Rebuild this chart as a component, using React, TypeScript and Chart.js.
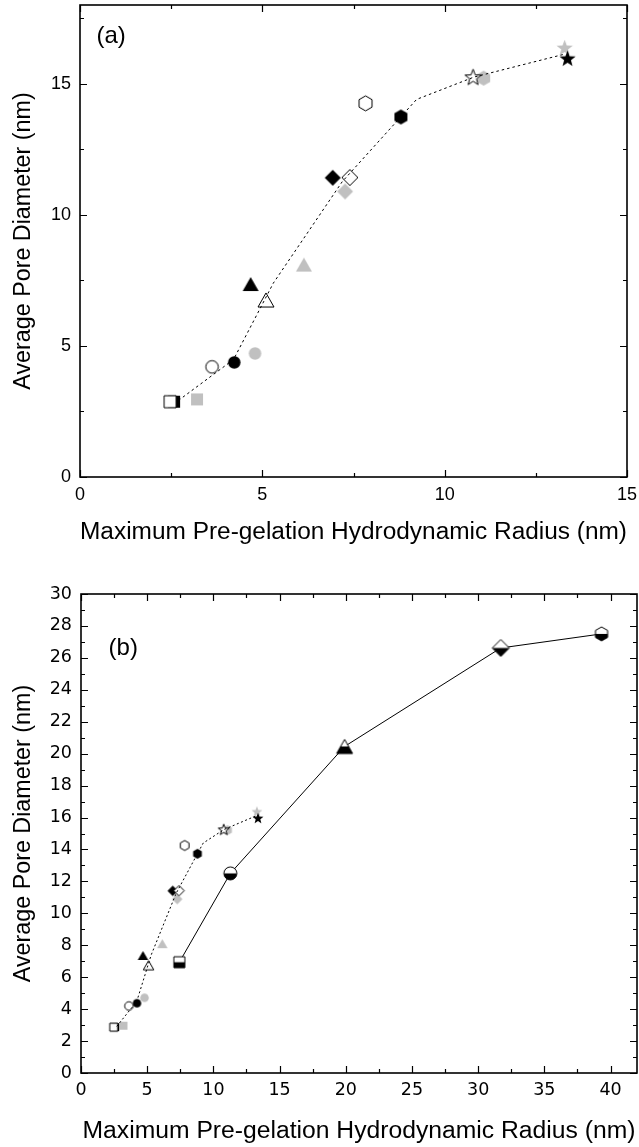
import React, { useEffect, useRef } from 'react';
import { Chart, registerables } from 'chart.js';

Chart.register(...registerables);

const FONT = "'Liberation Sans', Arial, Helvetica, sans-serif";
const FONT_B_TICKS = "'DejaVu Sans', 'Liberation Sans', Arial, sans-serif";
const GRAY = '#c0c0c0';

// marker shape for each gel (same order in each series)
const SHAPES = ['square', 'circle', 'triangle', 'diamond', 'hexagon', 'star'];

// filled black series
const BLACK_X = [2.58, 4.23, 4.68, 6.93, 8.8, 13.37];
const BLACK_Y = [2.87, 4.37, 7.36, 11.41, 13.73, 15.97];
// open series
const OPEN_X = [2.47, 3.62, 5.1, 7.4, 7.83, 10.78];
const OPEN_Y = [2.87, 4.2, 6.75, 11.42, 14.25, 15.26];
// gray series
const GRAY_X = [3.21, 4.8, 6.14, 7.27, 11.07, 13.29];
const GRAY_Y = [2.96, 4.71, 8.1, 10.89, 15.21, 16.38];

// dotted trend line
const TREND_X = [2.7, 4.21, 5.3, 7.19, 9.23, 10.8, 13.3];
const TREND_Y = [2.92, 4.48, 7.39, 11.26, 14.4, 15.25, 16.13];

// half-filled series (panel b, solid line)
const HALF_SHAPES = ['square', 'circle', 'triangle', 'diamond', 'hexagon'];
const HALF_X = [7.43, 11.28, 19.91, 31.71, 39.32];
const HALF_Y = [6.94, 12.5, 20.45, 26.62, 27.5];

// axes
const A_X_MAJOR = [0, 5, 10, 15];
const A_X_MINOR = [2.5, 7.5, 12.5];
const A_Y_MAJOR = [0, 5, 10, 15];
const A_Y_MINOR = [2.5, 7.5, 12.5, 17.5];
const B_X_MAJOR = [0, 5, 10, 15, 20, 25, 30, 35, 40];
const B_X_MINOR = [2.5, 7.5, 12.5, 17.5, 22.5, 27.5, 32.5, 37.5];
const B_Y_MAJOR = [0, 2, 4, 6, 8, 10, 12, 14, 16, 18, 20, 22, 24, 26, 28, 30];
const B_Y_MINOR = [1, 3, 5, 7, 9, 11, 13, 15, 17, 19, 21, 23, 25, 27, 29];

const X_TITLE = 'Maximum Pre-gelation Hydrodynamic Radius (nm)';
const Y_TITLE = 'Average Pore Diameter (nm)';

const SIZE_A: Record<string, number> = { square: 12, circle: 12.5, triangle: 16, diamond: 16, hexagon: 15, star: 17 };
const SIZE_B_SMALL: Record<string, number> = { square: 8, circle: 8.5, triangle: 10.5, diamond: 10.5, hexagon: 10, star: 11.5 };
const SIZE_B_HALF: Record<string, number> = { square: 11, circle: 13, triangle: 16, diamond: 17, hexagon: 14, star: 14 };

function shapePath(ctx: CanvasRenderingContext2D, shape: string, cx: number, cy: number, size: number) {
  const r = size / 2;
  ctx.beginPath();
  if (shape === 'square') {
    ctx.rect(cx - r, cy - r, size, size);
  } else if (shape === 'circle') {
    ctx.arc(cx, cy, r, 0, Math.PI * 2);
  } else if (shape === 'triangle') {
    const h = size * 0.88;
    ctx.moveTo(cx, cy - h / 2);
    ctx.lineTo(cx + r, cy + h / 2);
    ctx.lineTo(cx - r, cy + h / 2);
    ctx.closePath();
  } else if (shape === 'diamond') {
    ctx.moveTo(cx, cy - r);
    ctx.lineTo(cx + r, cy);
    ctx.lineTo(cx, cy + r);
    ctx.lineTo(cx - r, cy);
    ctx.closePath();
  } else if (shape === 'hexagon') {
    for (let i = 0; i < 6; i++) {
      const a = -Math.PI / 2 + (i * Math.PI) / 3;
      const px = cx + r * Math.cos(a);
      const py = cy + r * Math.sin(a);
      if (i === 0) ctx.moveTo(px, py);
      else ctx.lineTo(px, py);
    }
    ctx.closePath();
  } else if (shape === 'star') {
    const yOff = r * 0.1;
    for (let i = 0; i < 10; i++) {
      const a = -Math.PI / 2 + (i * Math.PI) / 5;
      const rr = i % 2 === 0 ? r : r * 0.42;
      const px = cx + rr * Math.cos(a);
      const py = cy + yOff + rr * Math.sin(a);
      if (i === 0) ctx.moveTo(px, py);
      else ctx.lineTo(px, py);
    }
    ctx.closePath();
  }
}

function makeMarker(shape: string, size: number, fill: string): HTMLCanvasElement {
  const w = Math.ceil(size + 4);
  const c = document.createElement('canvas');
  c.width = w;
  c.height = w;
  const ctx = c.getContext('2d')!;
  const cx = w / 2;
  const cy = w / 2;
  shapePath(ctx, shape, cx, cy, size);
  if (fill === 'black') {
    ctx.fillStyle = '#000';
    ctx.fill();
  } else if (fill === 'gray') {
    ctx.fillStyle = GRAY;
    ctx.fill();
  } else if (fill === 'half') {
    ctx.fillStyle = '#fff';
    ctx.fill();
    ctx.save();
    ctx.beginPath();
    ctx.rect(0, cy, w, w);
    ctx.clip();
    shapePath(ctx, shape, cx, cy, size);
    ctx.fillStyle = '#000';
    ctx.fill();
    ctx.restore();
    shapePath(ctx, shape, cx, cy, size);
    ctx.lineWidth = 1;
    ctx.strokeStyle = '#000';
    ctx.stroke();
  } else {
    ctx.fillStyle = '#fff';
    ctx.fill();
    ctx.lineWidth = 1;
    ctx.strokeStyle = '#000';
    ctx.stroke();
  }
  return c;
}

function markerSet(xs: number[], ys: number[], shapes: string[], fill: string, sizes: Record<string, number>) {
  return {
    type: 'scatter' as const,
    data: xs.map((x, i) => ({ x, y: ys[i] })),
    pointStyle: shapes.map((s) => makeMarker(s, sizes[s], fill)),
    pointRadius: 6,
    pointHoverRadius: 6,
    showLine: false,
  };
}

function lineSet(xs: number[], ys: number[], dash: number[]) {
  return {
    type: 'scatter' as const,
    data: xs.map((x, i) => ({ x, y: ys[i] })),
    showLine: true,
    borderColor: '#000',
    borderWidth: 1,
    borderDash: dash,
    pointRadius: 0,
    pointHoverRadius: 0,
    fill: false,
  };
}

const framePlugin = {
  id: 'frameTicks',
  afterDraw(chart: any, _args: any, opts: any) {
    const { ctx, chartArea: a, scales } = chart;
    const xs = scales.x;
    const ys = scales.y;
    ctx.save();
    ctx.strokeStyle = '#000';
    ctx.lineWidth = 1.2;
    ctx.beginPath();
    const xt = (vals: number[], len: number) => {
      for (const v of vals) {
        const p = Math.round(xs.getPixelForValue(v)) + 0.5;
        ctx.moveTo(p, a.bottom);
        ctx.lineTo(p, a.bottom - len);
        ctx.moveTo(p, a.top);
        ctx.lineTo(p, a.top + len);
      }
    };
    const yt = (vals: number[], len: number) => {
      for (const v of vals) {
        const p = Math.round(ys.getPixelForValue(v)) + 0.5;
        ctx.moveTo(a.left, p);
        ctx.lineTo(a.left + len, p);
        ctx.moveTo(a.right, p);
        ctx.lineTo(a.right - len, p);
      }
    };
    xt(opts.xMajor, 7);
    xt(opts.xMinor, 4);
    yt(opts.yMajor, 7);
    yt(opts.yMinor, 4);
    ctx.stroke();
    ctx.lineWidth = 1.6;
    ctx.strokeRect(a.left, a.top, a.right - a.left, a.bottom - a.top);
    ctx.fillStyle = '#000';
    ctx.font = `24px ${FONT}`;
    ctx.textAlign = 'left';
    ctx.textBaseline = 'middle';
    ctx.fillText(opts.label, xs.getPixelForValue(opts.labelX), ys.getPixelForValue(opts.labelY));
    ctx.restore();
  },
};

function axis(o: {
  min: number; max: number; major: number[]; title: string; titlePad: any; titleSize: number; fit: number;
  isY: boolean; labelFont: any; labelPad: number;
}) {
  return {
    type: 'linear' as const,
    min: o.min,
    max: o.max,
    grid: { display: false, drawTicks: false },
    border: { display: false },
    ticks: {
      autoSkip: false,
      maxRotation: 0,
      padding: o.labelPad,
      color: '#000',
      font: o.labelFont,
      callback: (v: any) => String(v),
    },
    afterBuildTicks: (s: any) => {
      s.ticks = o.major.map((v) => ({ value: v }));
    },
    afterFit: (s: any) => {
      if (o.isY) s.width = o.fit;
      else s.height = o.fit;
      s.paddingTop = 0;
      s.paddingBottom = 0;
      s.paddingLeft = 0;
      s.paddingRight = 0;
    },
    title: {
      display: true,
      text: o.title,
      color: '#000',
      font: { family: FONT, size: o.titleSize },
      padding: o.titlePad,
    },
  };
}

export default function App() {
  const refA = useRef<HTMLCanvasElement>(null);
  const refB = useRef<HTMLCanvasElement>(null);

  useEffect(() => {
    const chartA = new Chart(refA.current!, {
      type: 'scatter',
      data: {
        datasets: [
          lineSet(TREND_X, TREND_Y, [2.5, 3]),
          markerSet(OPEN_X, OPEN_Y, SHAPES, 'open', SIZE_A),
          markerSet(BLACK_X, BLACK_Y, SHAPES, 'black', SIZE_A),
          markerSet(GRAY_X, GRAY_Y, SHAPES, 'gray', SIZE_A),
        ] as any,
      },
      options: {
        animation: false,
        responsive: false,
        devicePixelRatio: 1,
        layout: { autoPadding: false, padding: { left: 0, top: 5, right: 12, bottom: 0 } },
        events: [],
        plugins: {
          legend: { display: false },
          tooltip: { enabled: false },
          frameTicks: {
            xMajor: A_X_MAJOR, xMinor: A_X_MINOR, yMajor: A_Y_MAJOR, yMinor: A_Y_MINOR,
            label: '(a)', labelX: 0.45, labelY: 16.8,
          },
        } as any,
        scales: {
          x: axis({
            min: 0, max: 15, major: A_X_MAJOR, title: X_TITLE, titleSize: 24.7, titlePad: { top: 0, bottom: 13.4 },
            fit: 83, isY: false, labelFont: { family: FONT, size: 18 }, labelPad: 7,
          }),
          y: axis({
            min: 0, max: 18, major: A_Y_MAJOR, title: Y_TITLE, titleSize: 23.3, titlePad: { top: 10, bottom: 0 },
            fit: 80, isY: true, labelFont: { family: FONT, size: 18 }, labelPad: 9,
          }),
        } as any,
      },
      plugins: [framePlugin],
    });

    const chartB = new Chart(refB.current!, {
      type: 'scatter',
      data: {
        datasets: [
          lineSet(TREND_X, TREND_Y, [2, 2.5]),
          markerSet(OPEN_X, OPEN_Y, SHAPES, 'open', SIZE_B_SMALL),
          markerSet(BLACK_X, BLACK_Y, SHAPES, 'black', SIZE_B_SMALL),
          markerSet(GRAY_X, GRAY_Y, SHAPES, 'gray', SIZE_B_SMALL),
          markerSet(HALF_X, HALF_Y, HALF_SHAPES, 'half', SIZE_B_HALF),
          lineSet(HALF_X, HALF_Y, []),
        ] as any,
      },
      options: {
        animation: false,
        responsive: false,
        devicePixelRatio: 1,
        layout: { autoPadding: false, padding: { left: 0, top: 34, right: 2, bottom: 0 } },
        events: [],
        plugins: {
          legend: { display: false },
          tooltip: { enabled: false },
          frameTicks: {
            xMajor: B_X_MAJOR, xMinor: B_X_MINOR, yMajor: B_Y_MAJOR, yMinor: B_Y_MINOR,
            label: '(b)', labelX: 2.08, labelY: 26.6,
          },
        } as any,
        scales: {
          x: axis({
            min: 0, max: 42, major: B_X_MAJOR, title: X_TITLE, titleSize: 24.7, titlePad: { top: 0, bottom: 1.4 },
            fit: 74, isY: false, labelFont: { family: FONT_B_TICKS, size: 17.5 }, labelPad: 7,
          }),
          y: axis({
            min: 0, max: 30, major: B_Y_MAJOR, title: Y_TITLE, titleSize: 23.3, titlePad: { top: 9.3, bottom: 0 },
            fit: 81, isY: true, labelFont: { family: FONT_B_TICKS, size: 17.5 }, labelPad: 9,
          }),
        } as any,
      },
      plugins: [framePlugin],
    });

    return () => {
      chartA.destroy();
      chartB.destroy();
    };
  }, []);

  return (
    <div style={{ position: 'absolute', left: 0, top: 0, width: 639, height: 1147, background: '#fff' }}>
      <canvas
        ref={refA}
        width={639}
        height={560}
        style={{ position: 'absolute', left: 0, top: 0, width: 639, height: 560, display: 'block' }}
      />
      <canvas
        ref={refB}
        width={639}
        height={587}
        style={{ position: 'absolute', left: 0, top: 560, width: 639, height: 587, display: 'block' }}
      />
    </div>
  );
}
